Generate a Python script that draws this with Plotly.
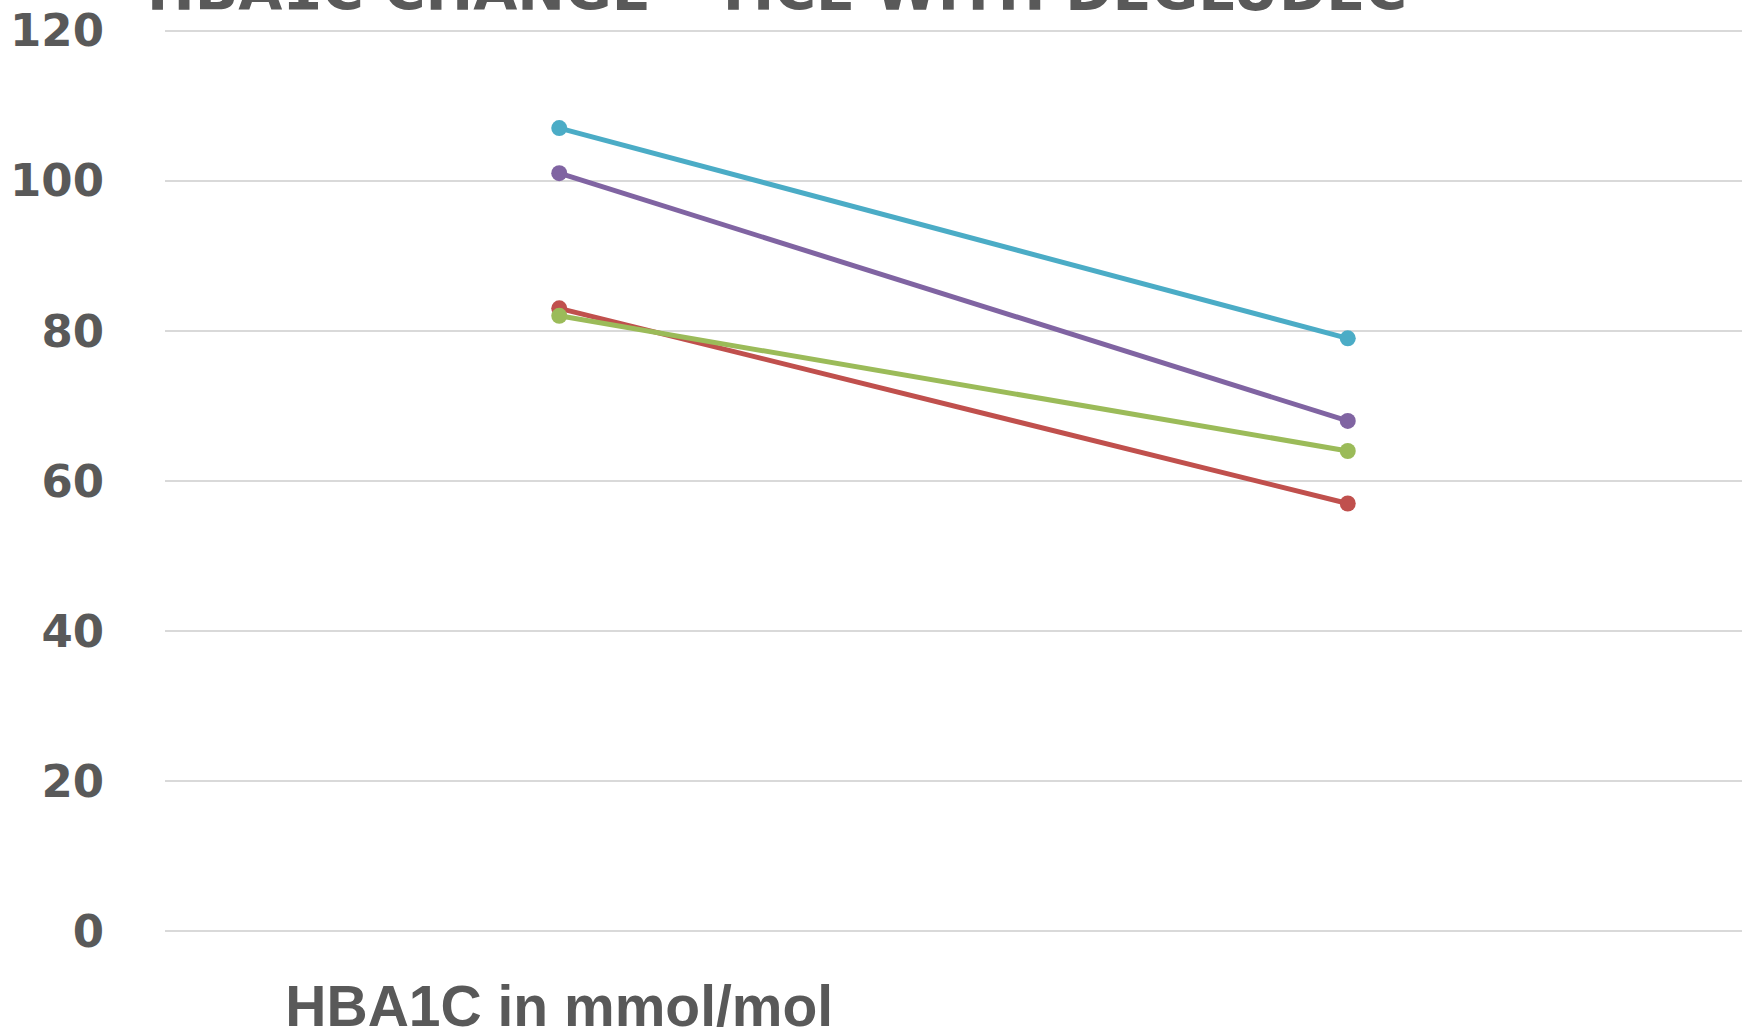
import plotly.graph_objects as go

categories = ["Before", "After"]
tick_labels = ["HBA1C in mmol/mol", ""]
series_names = ["Patient 1", "Patient 2", "Patient 3", "Patient 4"]
red_values = [83, 57]
green_values = [82, 64]
purple_values = [101, 68]
cyan_values = [107, 79]
y_ticks = [0, 20, 40, 60, 80, 100, 120]

colors = ["#C0504D", "#9BBB59", "#8064A2", "#4BACC6"]
all_values = [red_values, green_values, purple_values, cyan_values]

fig = go.Figure()
for name, vals, col in zip(series_names, all_values, colors):
    fig.add_trace(go.Scatter(
        x=categories, y=vals, name=name, mode="lines+markers",
        line=dict(color=col, width=5),
        marker=dict(color=col, size=16),
    ))

# 0 -> y=932px, 120 -> y=30px ; pad range by 1 unit (7.5px) each side
fig.update_layout(
    width=1753, height=1033,
    paper_bgcolor="white", plot_bgcolor="white",
    showlegend=False,
    margin=dict(l=165, r=11, t=22.5, b=93.5, autoexpand=False),
    title=dict(
        text="HBA1C CHANGE - TICE WITH DEGLUDEC",
        font=dict(family="DejaVu Sans", size=57, color="#595959", weight="bold"),
        x=777 / 1753, xanchor="center", xref="container",
        y=1 - 10 / 1033, yanchor="bottom", yref="container",
    ),
)
fig.update_xaxes(
    type="category", range=[-0.5, 1.5], automargin=False,
    tickvals=categories, ticktext=tick_labels,
    showgrid=False, zeroline=False, showline=False, ticks="",
    tickfont=dict(family="Liberation Sans", size=57, color="#595959", weight="bold"),
    ticklabelstandoff=29,
)
fig.update_yaxes(
    range=[-1, 121], tickvals=y_ticks, automargin=False,
    showgrid=True, gridcolor="#D9D9D9", gridwidth=1.5,
    zeroline=False, showline=False, ticks="",
    tickfont=dict(family="DejaVu Sans", size=45, color="#595959", weight="bold"),
    ticklabelstandoff=60,
)

fig.write_html("out.html")
